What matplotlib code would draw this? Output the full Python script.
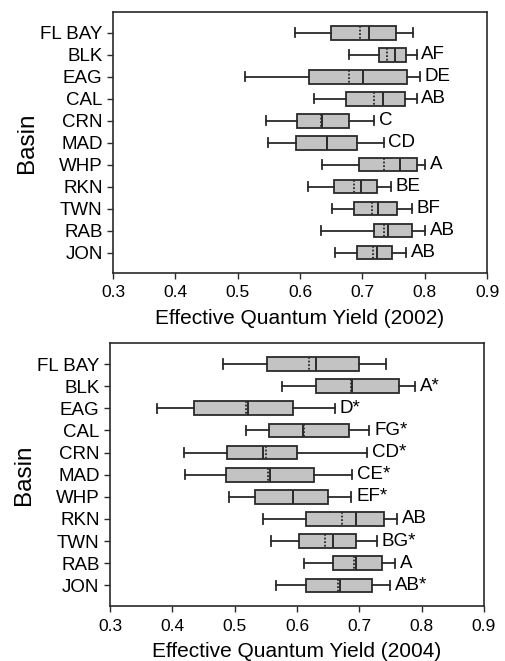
import matplotlib
matplotlib.use("Agg")
import matplotlib.pyplot as plt

plt.rcParams['font.family'] = ['Liberation Sans', 'DejaVu Sans']

basins = ["FL BAY", "BLK", "EAG", "CAL", "CRN", "MAD", "WHP", "RKN", "TWN", "RAB", "JON"]

# 2002: whisker low, Q1, median, mean, Q3, whisker high
lo_02 = [0.592, 0.679, 0.512, 0.622, 0.545, 0.548, 0.636, 0.612, 0.651, 0.634, 0.656]
q1_02 = [0.649, 0.726, 0.615, 0.673, 0.595, 0.594, 0.694, 0.655, 0.687, 0.719, 0.692]
med_02 = [0.711, 0.753, 0.701, 0.733, 0.636, 0.643, 0.761, 0.698, 0.725, 0.741, 0.724]
mean_02 = [0.696, 0.740, 0.679, 0.718, 0.634, 0.643, 0.734, 0.686, 0.716, 0.734, 0.717]
q3_02 = [0.754, 0.770, 0.772, 0.769, 0.679, 0.691, 0.788, 0.723, 0.755, 0.779, 0.747]
hi_02 = [0.782, 0.787, 0.792, 0.787, 0.719, 0.734, 0.800, 0.746, 0.779, 0.801, 0.770]
grp_02 = ["", "AF", "DE", "AB", "C", "CD", "A", "BE", "BF", "AB", "AB"]

# 2004
lo_04 = [0.482, 0.576, 0.375, 0.518, 0.418, 0.421, 0.491, 0.546, 0.558, 0.611, 0.567]
q1_04 = [0.552, 0.630, 0.435, 0.555, 0.488, 0.486, 0.533, 0.614, 0.604, 0.657, 0.614]
med_04 = [0.630, 0.688, 0.522, 0.609, 0.546, 0.557, 0.593, 0.695, 0.657, 0.695, 0.669]
mean_04 = [0.620, 0.686, 0.518, 0.612, 0.550, 0.554, 0.593, 0.672, 0.645, 0.691, 0.666]
q3_04 = [0.699, 0.763, 0.593, 0.684, 0.600, 0.628, 0.649, 0.739, 0.695, 0.736, 0.720]
hi_04 = [0.743, 0.789, 0.661, 0.716, 0.713, 0.688, 0.687, 0.760, 0.728, 0.757, 0.749]
grp_04 = ["", "A*", "D*", "FG*", "CD*", "CE*", "EF*", "AB", "BG*", "A", "AB*"]

xticks = [0.3, 0.4, 0.5, 0.6, 0.7, 0.8, 0.9]

edge = "#2a2a2a"
fill = "#c3c3c3"


def panel(ax, lo, q1, med, mean, q3, hi, grp, year):
    stats = []
    for i in range(len(basins)):
        stats.append({"whislo": lo[i], "q1": q1[i], "med": med[i], "mean": mean[i],
                      "q3": q3[i], "whishi": hi[i], "fliers": []})
    pos = list(range(len(basins)))
    ax.bxp(stats, positions=pos, vert=False, widths=0.62, capwidths=0.42,
           patch_artist=True, showmeans=True, meanline=True,
           boxprops=dict(facecolor=fill, edgecolor=edge, linewidth=1.3),
           medianprops=dict(color=edge, linewidth=1.4),
           meanprops=dict(color=edge, linewidth=1.3, linestyle=(0, (1, 1))),
           whiskerprops=dict(color=edge, linewidth=1.3),
           capprops=dict(color=edge, linewidth=1.3))
    for i, g in enumerate(grp):
        if g:
            ax.annotate(g, (hi[i], i), xytext=(3.5, 0), textcoords="offset points",
                        va="center", ha="left", fontsize=13.5)
    ax.set_xlim(0.3, 0.9)
    ax.set_ylim(10.93, -0.95)
    ax.set_yticks(pos)
    ax.set_yticklabels(basins, fontsize=13.5)
    ax.set_xticks(xticks)
    ax.set_xticklabels([str(t) for t in xticks], fontsize=12.5)
    ax.tick_params(axis="both", direction="out", length=4, width=1, color=edge)
    ax.tick_params(axis="x", pad=5)
    for s in ax.spines.values():
        s.set_color(edge)
        s.set_linewidth(1.2)
    ax.set_xlabel("Effective Quantum Yield (%d)" % year, fontsize=15, labelpad=6)
    ax.set_ylabel("Basin", fontsize=17.5)
    ax.yaxis.set_label_coords(-0.2, 0.5)


fig = plt.figure(figsize=(5.05, 6.61), dpi=100)
ax1 = fig.add_axes([0.2238, 0.587, 0.7406, 0.3949])
ax2 = fig.add_axes([0.2178, 0.0832, 0.7406, 0.3979])

panel(ax1, lo_02, q1_02, med_02, mean_02, q3_02, hi_02, grp_02, 2002)
panel(ax2, lo_04, q1_04, med_04, mean_04, q3_04, hi_04, grp_04, 2004)

fig.savefig("out.png", dpi=100)
